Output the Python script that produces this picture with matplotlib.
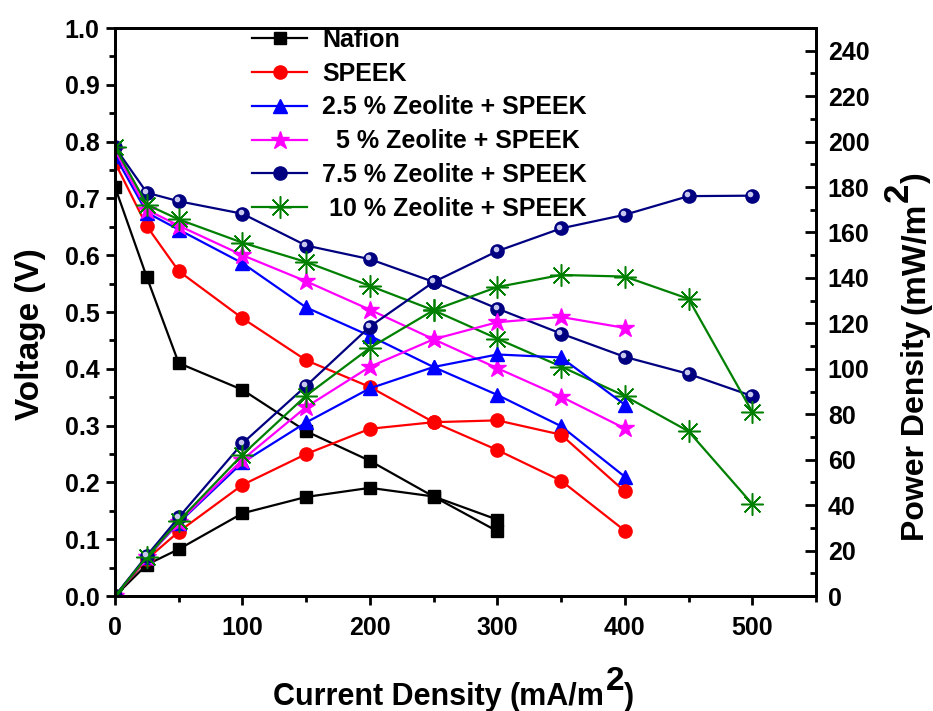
import matplotlib
matplotlib.use('Agg')
import matplotlib.pyplot as plt
import matplotlib.transforms as mtransforms
from matplotlib.ticker import MultipleLocator, FormatStrFormatter
import numpy as np

plt.rcParams['font.family'] = ['Liberation Sans', 'DejaVu Sans']
plt.rcParams['font.weight'] = 'bold'

# current density (mA/m2)
current_short = [0, 25, 50, 100, 150, 200, 250, 300]
current_mid = [0, 25, 50, 100, 150, 200, 250, 300, 350, 400]
current_long = [0, 25, 50, 100, 150, 200, 250, 300, 350, 400, 450, 500]

# voltage (V)
volt_nafion = [0.72, 0.561, 0.41, 0.363, 0.29, 0.238, 0.175, 0.114]
volt_speek = [0.763, 0.651, 0.572, 0.489, 0.415, 0.368, 0.306, 0.257, 0.203, 0.115]
volt_z25 = [0.775, 0.675, 0.645, 0.586, 0.508, 0.458, 0.403, 0.354, 0.299, 0.21]
volt_z5 = [0.785, 0.68, 0.652, 0.6, 0.554, 0.504, 0.452, 0.401, 0.351, 0.295]
volt_z75 = [0.79, 0.71, 0.695, 0.673, 0.617, 0.593, 0.553, 0.506, 0.462, 0.421, 0.391, 0.352]
volt_z10 = [0.79, 0.689, 0.663, 0.622, 0.588, 0.546, 0.503, 0.453, 0.404, 0.352, 0.29, 0.162]

# power density (mW/m2)
power_nafion = [0, 13.8, 20.6, 36.4, 43.6, 47.6, 43.8, 33.6]
power_speek = [0, 16.2, 28.3, 48.9, 62.5, 73.6, 76.5, 77.3, 71.0, 46.0]
power_z25 = [0, 17.0, 32.2, 58.8, 76.4, 91.4, 100.8, 106.3, 105.0, 84.2]
power_z5 = [0, 17.0, 32.5, 60.0, 83.2, 100.9, 113.0, 120.5, 122.8, 118.0]
power_z75 = [0, 17.8, 34.6, 67.2, 92.5, 118.6, 138.2, 151.8, 161.8, 167.8, 176.0, 176.2]
power_z10 = [0, 17.2, 33.0, 62.2, 88.2, 109.2, 125.8, 136.0, 141.3, 140.6, 130.8, 81.0]

labels = ['Nafion', 'SPEEK', '2.5 % Zeolite + SPEEK', '  5 % Zeolite + SPEEK',
          '7.5 % Zeolite + SPEEK', ' 10 % Zeolite + SPEEK']

W, H = 933, 711
fig = plt.figure(figsize=(W / 100, H / 100), dpi=100)
ax = fig.add_axes([115 / W, 1 - 596 / H, (816 - 115) / W, (596 - 28) / H])
ax2 = ax.twinx()

series = [
    (current_short, volt_nafion, power_nafion, 'black', dict(marker='s', ms=9)),
    (current_mid, volt_speek, power_speek, 'red', dict(marker='o', ms=9.5)),
    (current_mid, volt_z25, power_z25, 'blue', dict(marker='^', ms=10)),
    (current_mid, volt_z5, power_z5, 'magenta', dict(marker='*', ms=13.5)),
    (current_long, volt_z75, power_z75, 'navy', dict(marker='o', ms=9.5)),
    (current_long, volt_z10, power_z10, 'green', dict(marker=(8, 2, 0), ms=16, mew=1.1)),
]

handles = []
for (cur, volt, pw, col, mk), lab in zip(series, labels):
    h, = ax.plot(cur, volt, color=col, lw=1.6, mfc=col, mec=col, label=lab, **mk)
    ax2.plot(cur, pw, color=col, lw=1.6, mfc=col, mec=col, **mk)
    handles.append(h)

# shiny highlight on the 7.5 % spheres
shine = mtransforms.offset_copy(ax.transData, fig=fig, x=-1.8, y=1.8, units='dots')
shine2 = mtransforms.offset_copy(ax2.transData, fig=fig, x=-1.8, y=1.8, units='dots')
ax.plot(current_long, volt_z75, 'o', ms=3, color='#c8c8ee', transform=shine)
ax2.plot(current_long, power_z75, 'o', ms=3, color='#c8c8ee', transform=shine2)

ax.set_xlim(0, 550)
ax.set_ylim(0, 1.0)
ax2.set_ylim(0, 250)
ax.set_xticks(np.arange(0, 501, 100))
ax.xaxis.set_minor_locator(MultipleLocator(50))
ax.set_yticks(np.arange(0, 1.01, 0.1))
ax.yaxis.set_minor_locator(MultipleLocator(0.05))
ax.yaxis.set_major_formatter(FormatStrFormatter('%.1f'))
ax2.set_yticks(np.arange(0, 241, 20))
ax2.yaxis.set_minor_locator(MultipleLocator(10))

ax.tick_params(which='both', direction='out', width=2, labelsize=18, top=False, right=False)
ax.tick_params(which='major', length=6.5)
ax.tick_params(which='minor', length=4)
ax.tick_params(axis='x', pad=8)
ax.tick_params(axis='y', pad=4.5)
ax2.tick_params(which='both', direction='in', width=2, labelsize=18, pad=8.5)
ax2.tick_params(which='major', length=8)
ax2.tick_params(which='minor', length=4.5)
for a in (ax, ax2):
    for sp in a.spines.values():
        sp.set_linewidth(2)

ax.legend(handles=handles, loc='upper left', bbox_to_anchor=(252 / W, 1 - 28 / H),
          bbox_transform=fig.transFigure, frameon=False, fontsize=18,
          handlelength=2.2, handletextpad=0.6, labelspacing=0.39,
          borderpad=0, borderaxespad=0)


def chain_text(pieces, x0, y0, rotation=0):
    # pieces: (text, size, lift in px, gap before in px); x0, y0 in pixels from top-left
    renderer = fig.canvas.get_renderer()
    pos = 0
    for s, size, lift, gap in pieces:
        pos += gap
        if rotation == 0:
            px, py = x0 + pos, y0 - lift
        else:
            px, py = x0 - lift, y0 - pos
        t = fig.text(px / W, 1 - py / H, s, fontsize=size, fontweight='bold',
                     rotation=rotation, rotation_mode='anchor',
                     ha='left', va='baseline')
        bb = t.get_window_extent(renderer)
        pos += bb.width if rotation == 0 else bb.height


chain_text([('Current Density', 22, 0, 0), ('(mA/m', 22, 0, 8),
            ('2', 24, 15, 1), (')', 22, 0, 0)], 273, 705)
chain_text([('Voltage (V)', 24, 0, 0)], 39, 420, rotation=90)
chain_text([('Power Density', 23, 0, 0), ('(mW/m', 24, 0, 7),
            ('2', 25, 16, 0), (')', 23, 0, 0)], 924, 541, rotation=90)

fig.savefig('out.png', dpi=100)
